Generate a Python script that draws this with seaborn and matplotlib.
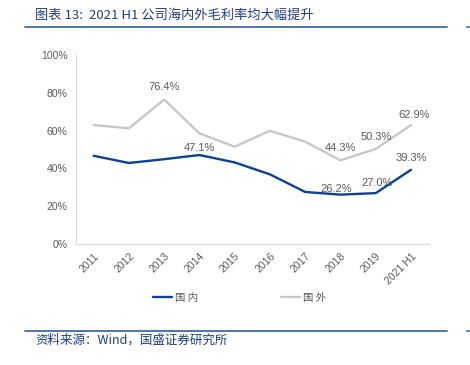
import numpy as np
import pandas as pd
import matplotlib
matplotlib.use("Agg")
import matplotlib.pyplot as plt
import seaborn as sns

years = ["2011", "2012", "2013", "2014", "2015", "2016", "2017", "2018", "2019", "2021 H1"]
domestic = [46.7, 42.9, 44.9, 47.1, 43.2, 36.9, 27.6, 26.2, 27.0, 39.3]
overseas = [62.9, 61.2, 76.4, 58.5, 51.5, 59.9, 54.1, 44.3, 50.3, 62.9]
series_names = ["国内", "国外"]
# which points get a value label, and pixel offset of the label (dx, dy)
dom_labels = {3: (0, 7), 7: (-4, 6), 8: (1, 10), 9: (0, 12)}
ovs_labels = {2: (0, 12), 7: (0, 12), 8: (1, 12), 9: (3, 10)}

sns.set_style("white")
plt.rcParams["font.family"] = ["Liberation Sans", "Noto Sans CJK SC", "DejaVu Sans"]

df = pd.DataFrame({
    "x": list(range(len(years))) * 2,
    "value": domestic + overseas,
    "series": [series_names[0]] * len(years) + [series_names[1]] * len(years),
})

blue = "#0B4196"
grey = "#C8C8C8"
txt = "#595959"

fig = plt.figure(figsize=(4.7, 3.65), dpi=100)
ax = fig.add_axes([0.1617, 0.3307, 0.912 - 0.1617, 0.850 - 0.3307])

sns.lineplot(data=df, x="x", y="value", hue="series", palette=[blue, grey],
             hue_order=series_names, linewidth=1.7, ax=ax, legend=False)
# domestic line on top
ax.get_lines()[0].set_zorder(3)

ax.set_xlim(-0.5, len(years) - 0.5)
ax.set_ylim(0, 100)
ax.set_yticks(np.arange(0, 101, 20))
ax.set_yticklabels([f"{v}%" for v in range(0, 101, 20)], fontsize=7.5, color=txt)
ax.set_xticks(range(len(years)))
ax.set_xticklabels(years, rotation=45, ha="right", rotation_mode="anchor",
                   fontsize=7.5, color=txt)
ax.set_xticks(np.arange(-0.5, len(years), 1), minor=True)
ax.tick_params(axis="x", which="major", length=0, pad=5)
ax.tick_params(axis="x", which="minor", length=4, color="#D9D9D9", width=0.8)
ax.tick_params(axis="y", length=3, color="#D9D9D9", width=0.8, pad=3)
ax.set_xlabel("")
ax.set_ylabel("")
for s in ["top", "right"]:
    ax.spines[s].set_visible(False)
for s in ["left", "bottom"]:
    ax.spines[s].set_color("#D9D9D9")
    ax.spines[s].set_linewidth(0.8)

for i, (dx, dy) in dom_labels.items():
    ax.annotate(f"{domestic[i]:.1f}%", (i, domestic[i]), xytext=(dx, dy),
                textcoords="offset pixels", ha="center", va="center",
                fontsize=8, color=txt, zorder=5)
for i, (dx, dy) in ovs_labels.items():
    ax.annotate(f"{overseas[i]:.1f}%", (i, overseas[i]), xytext=(dx, dy),
                textcoords="offset pixels", ha="center", va="center",
                fontsize=8, color=txt, zorder=5)

handles = [plt.Line2D([], [], color=blue, linewidth=1.7),
           plt.Line2D([], [], color=grey, linewidth=1.7)]
leg = fig.legend(handles, ["国 内", "国 外"], loc="center", ncol=2,
                 bbox_to_anchor=(0.51, (365 - 298) / 365), frameon=False,
                 handlelength=1.8, handletextpad=0.3, columnspacing=8.0,
                 prop={"family": ["Noto Sans CJK SC"], "size": 7.5})
for t in leg.get_texts():
    t.set_color(txt)

# title, separators, source note
title_color = "#1F3C88"
fig.text(35 / 470, 1 - 15 / 365, "图表 13:  2021 H1 公司海内外毛利率均大幅提升",
         fontsize=9.5, color=title_color, style="italic", va="center", ha="left",
         family=["Noto Sans CJK SC", "DejaVu Sans"])
for yy in [27, 331]:
    fig.add_artist(plt.Line2D([25 / 470, 447 / 470], [1 - yy / 365] * 2,
                              color="#2E5EA8", linewidth=1.2))
    fig.add_artist(plt.Line2D([467 / 470, 469 / 470], [1 - yy / 365] * 2,
                              color="#2E5EA8", linewidth=1.2))
fig.text(35 / 470, 1 - 340 / 365, "资料来源：Wind，国盛证券研究所",
         fontsize=9, color=title_color, style="italic", va="center", ha="left",
         family=["Noto Sans CJK SC", "DejaVu Sans"])

fig.savefig("out.png", dpi=100)
